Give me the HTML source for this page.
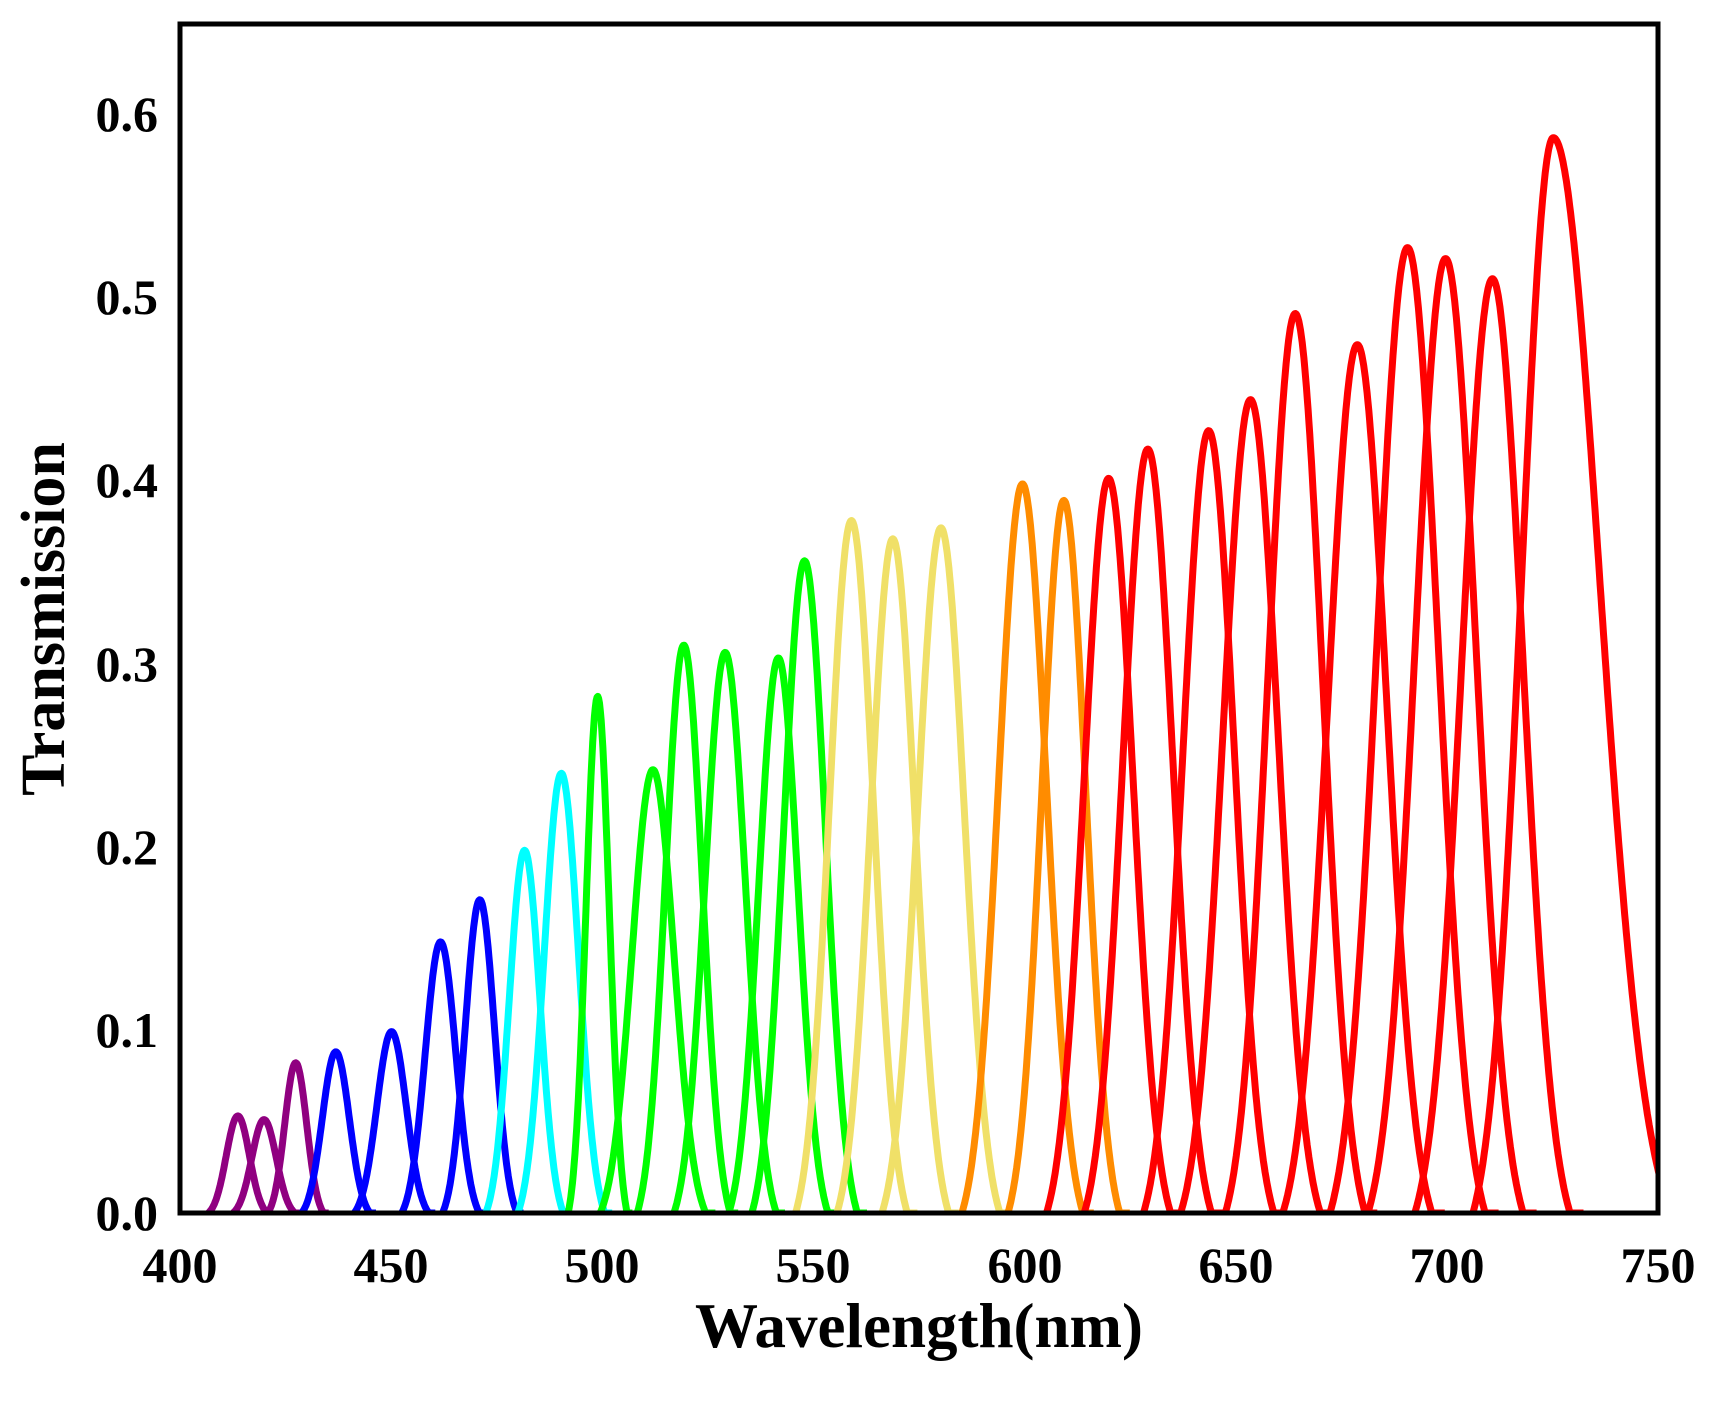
<!DOCTYPE html>
<html><head><meta charset="utf-8"><style>
html,body{margin:0;padding:0;background:#fff;}
svg{display:block;}
text{font-family:"Liberation Serif",serif;font-weight:bold;fill:#000;}
</style></head><body>
<svg id="s" width="1711" height="1402" viewBox="0 0 1711 1402" xmlns="http://www.w3.org/2000/svg">
<defs><clipPath id="c"><rect x="180" y="24" width="1478" height="1189"/></clipPath></defs>
<g id="curves" clip-path="url(#c)"></g>
<rect x="180" y="24" width="1478" height="1189" fill="none" stroke="#000" stroke-width="5"/>
<g font-size="50" text-anchor="end">
<text x="158" y="1230">0.0</text>
<text x="158" y="1047">0.1</text>
<text x="158" y="864">0.2</text>
<text x="158" y="681">0.3</text>
<text x="158" y="497">0.4</text>
<text x="158" y="314">0.5</text>
<text x="158" y="131">0.6</text>
</g>
<g font-size="50" text-anchor="middle">
<text x="180" y="1282">400</text>
<text x="391" y="1282">450</text>
<text x="602" y="1282">500</text>
<text x="813" y="1282">550</text>
<text x="1025" y="1282">600</text>
<text x="1236" y="1282">650</text>
<text x="1447" y="1282">700</text>
<text x="1658" y="1282">750</text>
</g>
<text x="919" y="1347" font-size="63" text-anchor="middle">Wavelength(nm)</text>
<text transform="translate(64,619) rotate(-90)" font-size="62" text-anchor="middle">Transmission</text>
</svg>
<script>
var P=[
["#900080",413.7,0.053,1.9],["#900080",419.9,0.051,2.0],["#900080",427.4,0.082,1.8],
["#0000ff",436.9,0.088,2.2],["#0000ff",450.1,0.099,2.4],["#0000ff",461.7,0.148,2.5],["#0000ff",471,0.171,2.4],
["#00ffff",481.6,0.198,2.5],["#00ffff",490.3,0.24,2.8],
["#00ff00",498.9,0.282,1.9],["#00ff00",512,0.242,3.4],["#00ff00",519.3,0.31,3.0],["#00ff00",529.1,0.306,3.3],["#00ff00",541.7,0.303,3.2],["#00ff00",547.9,0.356,3.4],
["#f0e068",559,0.378,3.6],["#f0e068",568.8,0.368,3.6],["#f0e068",580.2,0.374,3.8],
["#ff8c00",599.5,0.398,3.9],["#ff8c00",609.3,0.389,3.6],
["#ff0000",619.9,0.401,4.0],["#ff0000",629.2,0.417,4.1],["#ff0000",643.6,0.427,4.2],["#ff0000",653.5,0.444,4.5],["#ff0000",664.1,0.491,4.5],["#ff0000",678.8,0.474,4.8],["#ff0000",690.7,0.527,5.0],["#ff0000",699.7,0.521,5.0],["#ff0000",710.8,0.51,5.0],["#ff0000",725.2,0.587,5.2]
];
var g=document.getElementById("curves"),h="",C=0.04;
function X(l){return 180+(l-400)*1478/350;}
function Y(v){return 1213-v*1832;}
P.forEach(function(p){
 var d="",sl=p[3]*1.45,sr=p[3]*1.45;
 if(p[1]>720){sr=11;sl=7.5;}
 for(var l=p[1]-2.6*sl;l<=p[1]+3*sr;l+=0.2){
  var s=l<p[1]?sl:sr,v=Math.exp(-Math.pow(l-p[1],2)/(2*s*s));
  v=p[2]*Math.max(0,(v-C)/(1-C));
  d+=(d?"L":"M")+X(l).toFixed(1)+","+Y(v).toFixed(1);
 }
 h+='<path d="'+d+'" fill="none" stroke="'+p[0]+'" stroke-width="7" stroke-linejoin="round"/>';
});
g.innerHTML=h;
</script>
</body></html>
